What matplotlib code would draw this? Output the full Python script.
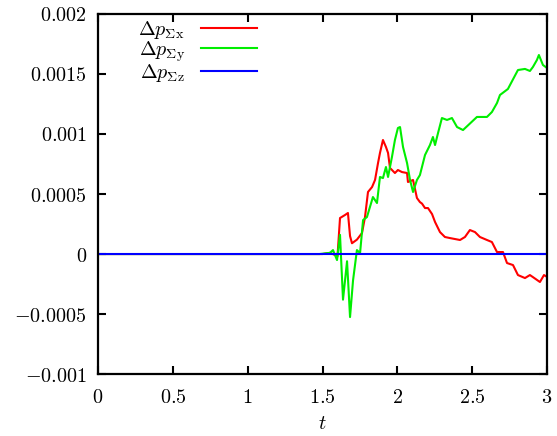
import numpy as np
import matplotlib
matplotlib.use('Agg')
import matplotlib.pyplot as plt

plt.rcParams['font.family'] = 'serif'
plt.rcParams['font.serif'] = ['DejaVu Serif']
plt.rcParams['mathtext.fontset'] = 'cm'

# momentum drift
t_x = [0.0, 1.5, 1.55, 1.583, 1.60, 1.617, 1.65, 1.67, 1.684, 1.697, 1.73, 1.764,
       1.784, 1.804, 1.831, 1.851, 1.871, 1.884, 1.904, 1.924, 1.938, 1.951, 1.984,
       2.004, 2.031, 2.065, 2.071, 2.105, 2.131, 2.151, 2.165, 2.185, 2.205, 2.232,
       2.252, 2.285, 2.318, 2.352, 2.419, 2.452, 2.485, 2.519, 2.552, 2.599, 2.632,
       2.666, 2.706, 2.733, 2.773, 2.806, 2.853, 2.886, 2.906, 2.953, 2.980, 3.0]
dp_x = [0.0, 0.0, 0.00001, -0.000008, -0.00002, 0.0003, 0.000325, 0.000342, 0.00015,
        0.00009, 0.00012, 0.000175, 0.000308, 0.000517, 0.000558, 0.000617, 0.000758,
        0.000842, 0.00095, 0.000892, 0.000842, 0.000717, 0.000675, 0.0007, 0.000683,
        0.000675, 0.0006, 0.000617, 0.000467, 0.000433, 0.00042, 0.000383, 0.000383,
        0.000333, 0.000267, 0.000183, 0.000142, 0.000133, 0.000117, 0.000142, 0.0002,
        0.000183, 0.000142, 0.000117, 0.0001, 0.0000167, 0.0000167, -0.000075,
        -0.0000917, -0.000175, -0.0002, -0.000175, -0.000192, -0.000233, -0.000175,
        -0.00019]

t_y = [0.0, 1.48, 1.55, 1.57, 1.597, 1.617, 1.637, 1.664, 1.684, 1.704, 1.73, 1.751,
       1.771, 1.797, 1.817, 1.837, 1.864, 1.884, 1.904, 1.924, 1.938, 1.964, 1.984,
       2.004, 2.018, 2.038, 2.065, 2.085, 2.105, 2.131, 2.151, 2.185, 2.218, 2.238,
       2.252, 2.272, 2.298, 2.332, 2.365, 2.399, 2.439, 2.532, 2.599, 2.632, 2.666,
       2.686, 2.739, 2.806, 2.853, 2.886, 2.906, 2.933, 2.946, 2.973, 3.0]
dp_y = [0.0, 0.0, 0.00001, 0.000033, -0.00005, 0.00016, -0.00038, -0.00006, -0.000525,
        -0.00022, 0.000033, 0.000008, 0.000283, 0.000308, 0.000392, 0.000475, 0.000425,
        0.000642, 0.000633, 0.000725, 0.000642, 0.000808, 0.00095, 0.00105, 0.001058,
        0.000892, 0.000758, 0.000617, 0.000517, 0.000617, 0.000658, 0.000825, 0.000908,
        0.000975, 0.000908, 0.001008, 0.001133, 0.001117, 0.001133, 0.001058, 0.001033,
        0.001142, 0.001142, 0.001183, 0.001258, 0.001325, 0.001375, 0.001533, 0.001542,
        0.001525, 0.001558, 0.001617, 0.001658, 0.001575, 0.00155]

t_z = [0.0, 3.0]
dp_z = [0.0, 0.0]

x_ticks = [0, 0.5, 1, 1.5, 2, 2.5, 3]
x_labels = ['0', '0.5', '1', '1.5', '2', '2.5', '3']
y_ticks = [-0.001, -0.0005, 0, 0.0005, 0.001, 0.0015, 0.002]
y_labels = ['-0.001', '-0.0005', '0', '0.0005', '0.001', '0.0015', '0.002']

fig = plt.figure(figsize=(5.57, 4.36), dpi=100)
ax = fig.add_axes([0.176, 0.142, 0.806, 0.826])

ax.plot(t_x, dp_x, color='#ff0000', lw=1.5, label=r'$\Delta p_{\Sigma\mathrm{x}}$')
ax.plot(t_y, dp_y, color='#00ee00', lw=1.5, label=r'$\Delta p_{\Sigma\mathrm{y}}$')
ax.plot(t_z, dp_z, color='#0000ff', lw=1.5, label=r'$\Delta p_{\Sigma\mathrm{z}}$')

ax.set_xlim(0, 3)
ax.set_ylim(-0.001, 0.002)
ax.set_xticks(x_ticks)
ax.set_xticklabels(['$%s$' % s for s in x_labels])
ax.set_yticks(y_ticks)
ax.set_yticklabels(['$%s$' % s for s in y_labels])
ax.tick_params(direction='in', top=True, right=True, length=6, width=1.5,
               labelsize=14.5)
ax.tick_params(axis='x', pad=10)
ax.tick_params(axis='y', pad=8)
for sp in ax.spines.values():
    sp.set_linewidth(1.6)

ax.set_xlabel('$t$', fontsize=14.5, labelpad=5)

ax.legend(loc='upper left', bbox_to_anchor=(0.09, 0.985), frameon=False,
          markerfirst=False, fontsize=14.5, handlelength=2.8, handletextpad=0.8,
          labelspacing=-0.1, borderaxespad=0.0, borderpad=0.0)

fig.savefig('out.png', dpi=100)
